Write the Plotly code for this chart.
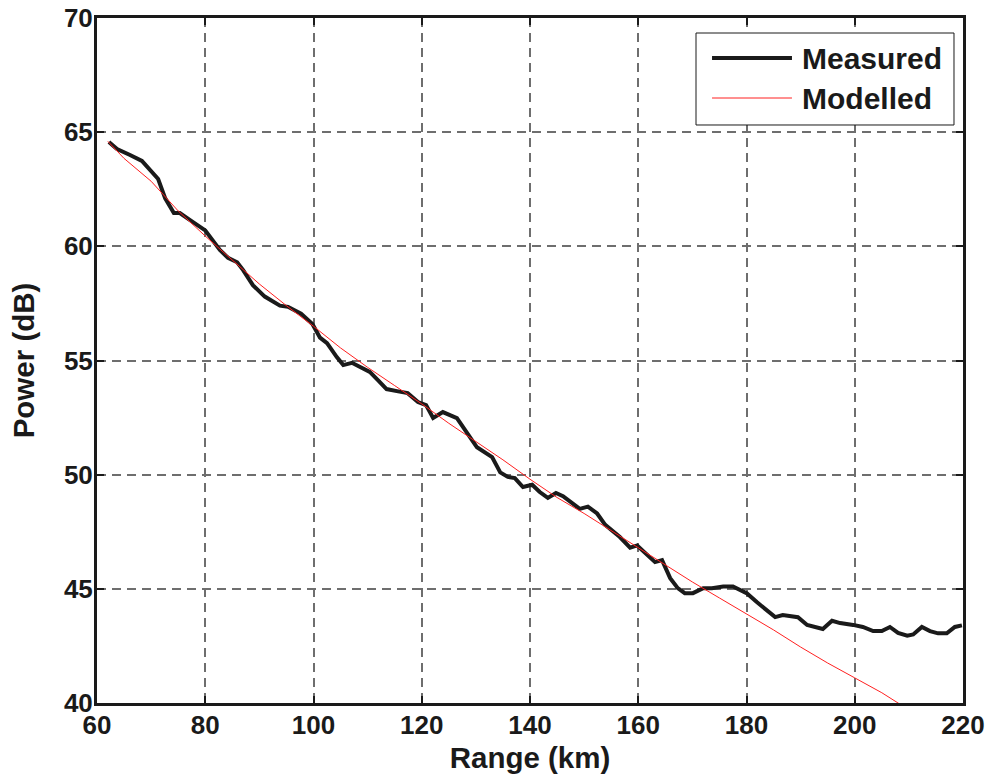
import plotly.graph_objects as go

# Measured curve (Range km, Power dB)
measured_range = [62.2, 63.7, 66.1, 68.3, 71.3, 72.6, 74.2, 75.3, 77.2, 79.0, 80.0, 82.7, 84.2, 85.9,
                  87.0, 88.8, 91.0, 93.8, 95.3, 97.7, 99.8, 101.2, 102.5, 104.3, 105.5, 107.1, 109.0,
                  110.4, 111.9, 113.5, 115.4, 117.4, 119.3, 120.8, 122.1, 123.9, 126.5, 128.4, 130.2,
                  133.0, 134.5, 135.9, 137.2, 138.7, 140.4, 141.8, 143.3, 144.8, 146.1, 149.2, 150.7,
                  152.4, 153.9, 156.6, 158.5, 159.8, 161.2, 163.1, 164.4, 165.9, 167.3, 168.6, 170.1,
                  172.0, 173.6, 175.7, 177.5, 180.1, 181.9, 183.8, 185.3, 186.7, 189.5, 191.2, 194.1,
                  195.8, 197.3, 199.7, 201.5, 203.4, 205.0, 206.5, 208.0, 209.7, 210.8, 212.4, 213.9,
                  215.4, 217.0, 218.5, 219.8]
measured_power = [64.57, 64.26, 64.0, 63.74, 62.95, 62.1, 61.46, 61.46, 61.15, 60.85, 60.7, 59.84, 59.5, 59.3,
                  58.96, 58.3, 57.8, 57.4, 57.35, 57.05, 56.6, 56.0, 55.76, 55.15, 54.8, 54.9, 54.67,
                  54.5, 54.14, 53.75, 53.66, 53.57, 53.18, 53.05, 52.48, 52.74, 52.48, 51.82, 51.2,
                  50.77, 50.1, 49.9, 49.85, 49.46, 49.56, 49.24, 48.98, 49.2, 49.06, 48.5, 48.6,
                  48.3, 47.8, 47.27, 46.8, 46.9, 46.6, 46.17, 46.26, 45.47, 45.03, 44.81, 44.81,
                  45.03, 45.03, 45.1, 45.1, 44.8, 44.42, 44.03, 43.76, 43.85, 43.76, 43.42, 43.24,
                  43.6, 43.5, 43.42, 43.33, 43.15, 43.15, 43.33, 43.07, 42.95, 43.0, 43.33, 43.15,
                  43.05, 43.05, 43.33, 43.4]

# Modelled curve
model_range = [62, 65, 70, 75, 80, 85, 90, 95, 100, 105, 110, 115, 120, 125, 130, 135, 140, 145,
               150, 155, 160, 165, 170, 175, 180, 185, 190, 195, 200, 205, 208, 212]
model_power = [64.6, 63.85, 62.85, 61.55, 60.45, 59.4, 58.35, 57.4, 56.5, 55.55, 54.7, 53.9, 53.1,
               52.25, 51.45, 50.65, 49.8, 49.0, 48.3, 47.55, 46.8, 46.05, 45.3, 44.6, 43.9, 43.2,
               42.45, 41.75, 41.1, 40.45, 40.0, 39.4]

x_ticks = [60, 80, 100, 120, 140, 160, 180, 200, 220]
y_ticks = [40, 45, 50, 55, 60, 65, 70]
series_names = ["Measured", "Modelled"]
series_colors = ["#1a1a1a", "#ff2020"]
series_widths = [4, 1]

FONT = "Liberation Sans, Arial, sans-serif"
INK = "#1a1a1a"

fig = go.Figure()
fig.add_trace(go.Scatter(x=measured_range, y=measured_power, mode="lines", name=series_names[0],
                         line=dict(color=series_colors[0], width=series_widths[0]), showlegend=False))
fig.add_trace(go.Scatter(x=model_range, y=model_power, mode="lines", name=series_names[1],
                         line=dict(color=series_colors[1], width=series_widths[1]), showlegend=False))

axis_common = dict(
    showline=True, linewidth=3, linecolor=INK, mirror="ticks",
    ticks="inside", ticklen=7, tickwidth=2, tickcolor=INK,
    showgrid=True, gridcolor="#6e6e6e", gridwidth=1.5, griddash="9px,6px",
    zeroline=False, automargin=False, ticklabeloverflow="allow",
    tickfont=dict(family=FONT, size=26, color=INK, weight="bold"),
)

fig.update_xaxes(range=[60, 220], tickvals=x_ticks, ticktext=[str(v) for v in x_ticks],
                 ticklabelstandoff=-3,
                 title=dict(text="Range (km)", font=dict(family=FONT, size=29.5, color=INK, weight="bold"),
                            standoff=9),
                 **axis_common)
fig.update_yaxes(range=[40, 70], tickvals=y_ticks, ticktext=[str(v) for v in y_ticks],
                 ticklabelstandoff=-4,
                 title=dict(text="Power (dB)", font=dict(family=FONT, size=29.5, color=INK, weight="bold"),
                            standoff=21),
                 **axis_common)

# Legend box (drawn in paper coordinates, matching the reference's boxed legend)
fig.add_shape(type="rect", xref="paper", yref="paper", x0=0.6917, x1=0.9896, y0=0.8438, y1=0.9781,
              line=dict(color=INK, width=1), fillcolor="white", layer="above")
legend_rows_y = [0.9416, 0.8832]
for name, color, width, yy in zip(series_names, series_colors, series_widths, legend_rows_y):
    fig.add_shape(type="line", xref="paper", yref="paper", x0=0.7102, x1=0.8025, y0=yy, y1=yy,
                  line=dict(color=color, width=width), layer="above")
    fig.add_annotation(xref="paper", yref="paper", x=0.8118, y=yy, xanchor="left", yanchor="middle",
                       text=name, showarrow=False,
                       font=dict(family=FONT, size=30, color=INK, weight="bold"))

fig.update_layout(
    width=993, height=781,
    margin=dict(l=97, r=30, t=18, b=78),
    plot_bgcolor="white", paper_bgcolor="white",
    showlegend=False,
)

fig.write_html("out.html", config={"displayModeBar": False},
               post_script="document.body.style.margin='0px';")
